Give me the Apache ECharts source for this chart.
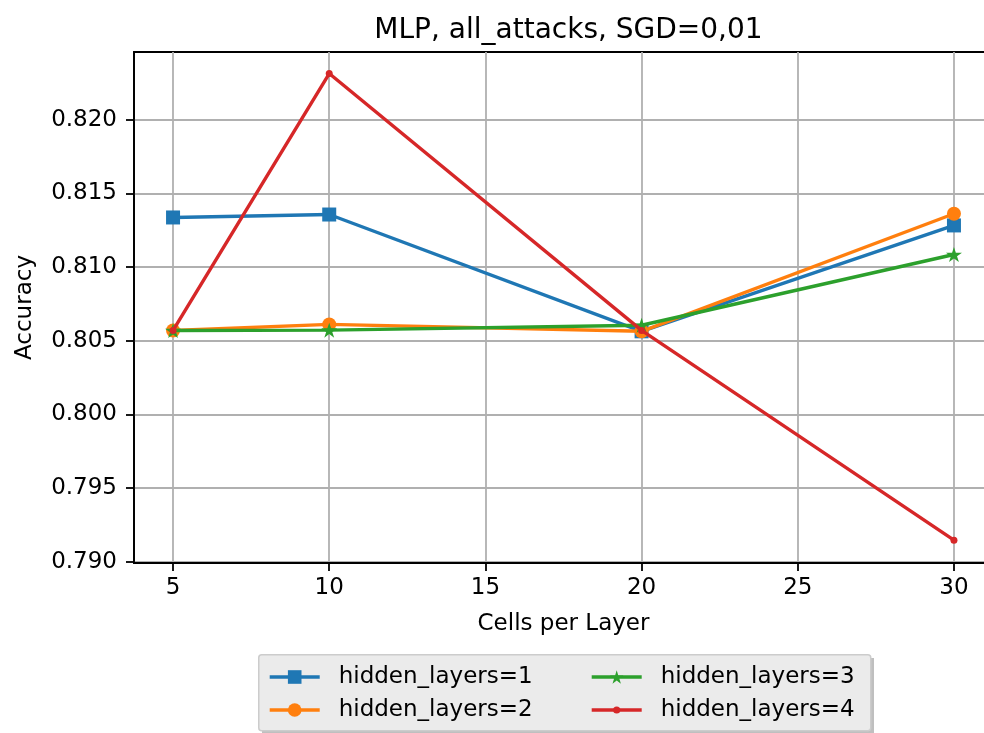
<!DOCTYPE html>
<html>
<head>
<meta charset="utf-8">
<script src="https://cdn.jsdelivr.net/npm/echarts@6/dist/echarts.min.js"></script>
<style>html,body{margin:0;padding:0;background:#fff}#c{width:984px;height:733px}</style>
</head>
<body>
<div id="c"></div>
<script>
const cells = [5, 10, 20, 30];
const hl1 = [0.81336, 0.81356, 0.80564, 0.81282];
const hl2 = [0.80570, 0.80611, 0.80564, 0.81361];
const hl3 = [0.80570, 0.80572, 0.80605, 0.81085];
const hl4 = [0.80570, 0.82312, 0.80570, 0.79148];
const names = ['hidden_layers=1', 'hidden_layers=2', 'hidden_layers=3', 'hidden_layers=4'];
const yTicks = [0.790, 0.795, 0.800, 0.805, 0.810, 0.815, 0.820];
const xTicks = [5, 10, 15, 20, 25, 30];

const colors = ['#1f77b4', '#ff7f0e', '#2ca02c', '#d62728'];
const star = 'path://M100,0 L122.45,69.1 L195.11,69.1 L136.33,111.8 L158.78,180.9 L100,138.2 L41.22,180.9 L63.67,111.8 L4.89,69.1 L77.55,69.1 Z';
const symbols = ['rect', 'circle', star, 'circle'];
const sizes = [14, 14, [16, 15], 7];
const legendSizes = [17, 17, 17, 9];
const FONT = 'DejaVu Sans';

function mk(vals) { return cells.map((c, i) => [c, vals[i]]); }
const allVals = [hl1, hl2, hl3, hl4];

const series = allVals.map((v, i) => ({
  name: names[i], type: 'line', data: mk(v),
  symbol: symbols[i], symbolSize: sizes[i], showSymbol: true,
  lineStyle: { color: colors[i], width: 3.4 },
  itemStyle: { color: colors[i] },
  z: 2 + i, animation: false, clip: false
}));

const legendPos = [
  { left: 268, top: 677 }, { left: 268, top: 710 },
  { left: 590, top: 677 }, { left: 590, top: 710 }
];
const legends = names.map((n, i) => ({
  data: [n], left: legendPos[i].left, top: legendPos[i].top - 13,
  itemWidth: 50, itemHeight: legendSizes[i], padding: 0,
  lineStyle: { width: 3.4 },
  textStyle: { fontFamily: FONT, fontSize: 23, lineHeight: 26, color: '#000', padding: [0, 0, 0, 14] },
  selectedMode: false
}));

const chart = echarts.init(document.getElementById('c'), null, { renderer: 'canvas' });
chart.setOption({
  animation: false,
  backgroundColor: '#fff',
  title: {
    text: 'MLP, all_attacks, SGD=0,01', left: 563.5, top: 12, textAlign: 'center',
    textStyle: { fontFamily: FONT, fontSize: 28, fontWeight: 'normal', color: '#000' }
  },
  graphic: [{
    type: 'rect', left: 262, top: 658, z: 0,
    shape: { width: 612, height: 76 },
    style: { fill: '#7f7f7f', opacity: 0.5 }
  }, {
    type: 'rect', left: 258, top: 654, z: 1,
    shape: { width: 612, height: 76, r: 3 },
    style: { fill: '#ebebeb', stroke: '#cccccc', lineWidth: 1.5 }
  }],
  legend: legends,
  grid: { left: 134, right: -9, top: 52, bottom: 170, outerBoundsMode: 'none', containLabel: false, show: true, borderColor: '#000', borderWidth: 1.8, backgroundColor: 'transparent' },
  xAxis: {
    type: 'value', min: 3.75, max: 31.25,
    name: 'Cells per Layer', nameLocation: 'middle', nameGap: 50,
    nameTextStyle: { fontFamily: FONT, fontSize: 23, color: '#000' },
    axisLine: { show: true, lineStyle: { color: '#000', width: 1.8 } },
    axisTick: { show: true, length: 8, customValues: xTicks, lineStyle: { color: '#000', width: 1.8 } },
    axisLabel: {
      fontFamily: FONT, fontSize: 23, color: '#000', margin: 14, customValues: xTicks,
      showMinLabel: true, showMaxLabel: true
    },
    splitLine: { show: true, lineStyle: { color: '#b0b0b0', width: 1.8 } }
  },
  yAxis: {
    type: 'value', min: 0.78993, max: 0.82458,
    name: 'Accuracy', nameLocation: 'middle', nameGap: 97,
    nameTextStyle: { fontFamily: FONT, fontSize: 23, color: '#000' },
    axisLine: { show: true, lineStyle: { color: '#000', width: 1.8 } },
    axisTick: { show: true, length: 8, customValues: yTicks, lineStyle: { color: '#000', width: 1.8 } },
    axisLabel: {
      fontFamily: FONT, fontSize: 23, color: '#000', margin: 17, customValues: yTicks,
      showMinLabel: true, showMaxLabel: true,
      formatter: v => v.toFixed(3)
    },
    splitLine: { show: true, lineStyle: { color: '#b0b0b0', width: 1.8 } }
  },
  series: series
});
</script>
</body>
</html>
